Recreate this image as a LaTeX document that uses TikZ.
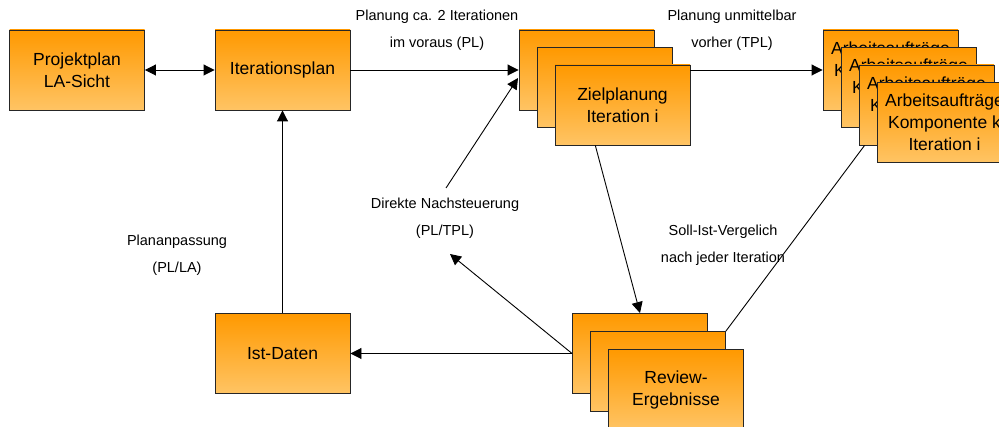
\documentclass[tikz,border=0pt]{standalone}
\usepackage{fontspec}
\setmainfont{Liberation Sans}
\usetikzlibrary{arrows.meta,calc}
\definecolor{orangetop}{RGB}{255,153,0}
\definecolor{orangebot}{RGB}{255,196,100}
\begin{document}
\begin{tikzpicture}[x=1pt,y=-1pt,
  card/.style={draw=black!85, line width=0.9pt, top color=orangetop, bottom color=orangebot,
    minimum width=135pt, minimum height=80pt, inner sep=0pt, align=center,
    font=\fontsize{17.5}{22}\selectfont},
  note/.style={align=center, inner sep=0pt, font=\fontsize{14.5}{27}\selectfont},
  link/.style={line width=0.9pt, black},
  tip/.tip={Triangle[length=11pt,width=11pt]},
  arr/.style={link, -tip}]
\useasboundingbox (0,0) rectangle (999,427);

% planning boxes
\node[card] (proj) at (77,70) {Projektplan\\LA-Sicht};
\node[card] (iter) at (282.5,70) {Iterationsplan};
\node[card] (ist)  at (282.5,353.5) {Ist-Daten};

% stacked target planning
\node[card] (ziel1) at (586.5,70) {};
\node[card] (ziel2) at (604.5,87.5) {};
\node[card] (ziel3) at (622.5,105) {Zielplanung\\Iteration i};

% stacked work orders
\node[card] (arb1) at (890.5,70)   {Arbeitsaufträge\\Komponente k\\Iteration i};
\node[card] (arb2) at (908.5,87.5) {Arbeitsaufträge\\Komponente k\\Iteration i};
\node[card] (arb3) at (926.5,105)  {Arbeitsaufträge\\Komponente k\\Iteration i};
\node[card] (arb4) at (944.5,122.5) {Arbeitsaufträge\\Komponente k\\Iteration i};

% stacked review results
\node[card] (rev1) at (640,353.5) {};
\node[card] (rev2) at (658,371.5) {};
\node[card] (rev3) at (676,389.5) {Review-\\Ergebnisse};

% connector labels
\node[note] (lblA) at (437,30.5)  {Planung ca. 2 Iterationen\\im voraus (PL)};
\node[note] (lblB) at (732,30.5)  {Planung unmittelbar\\vorher (TPL)};
\node[note] (lblC) at (445,218.5) {Direkte Nachsteuerung\\(PL/TPL)};
\node[note] (lblD) at (723,245.5) {Soll-Ist-Vergelich\\nach jeder Iteration};
\node[note] (lblE) at (177,255.5) {Plananpassung\\(PL/LA)};

% free ends of the feedback path
\coordinate (nachEnd)   at (450,254);
\coordinate (nachStart) at (446,188);
\coordinate (zielIn)    at (518,78);

% connectors
\draw[link, tip-tip] (proj) -- (iter);
\draw[arr] (iter) -- (ziel1);
\draw[arr] (ziel3.east |- arb1.west) -- (arb1.west);
\draw[arr] ($(ziel3.south west)!0.3!(ziel3.south east)$) -- (rev1.north);
\draw[link] ([xshift=6pt]arb3.south west) -- (rev2.north east);
\draw[arr] (rev1.west) -- (ist.east);
\draw[arr] (rev1.west) -- (nachEnd);
\draw[arr] (nachStart) -- (zielIn);
\draw[arr] (ist) -- (iter);
\end{tikzpicture}
\end{document}
